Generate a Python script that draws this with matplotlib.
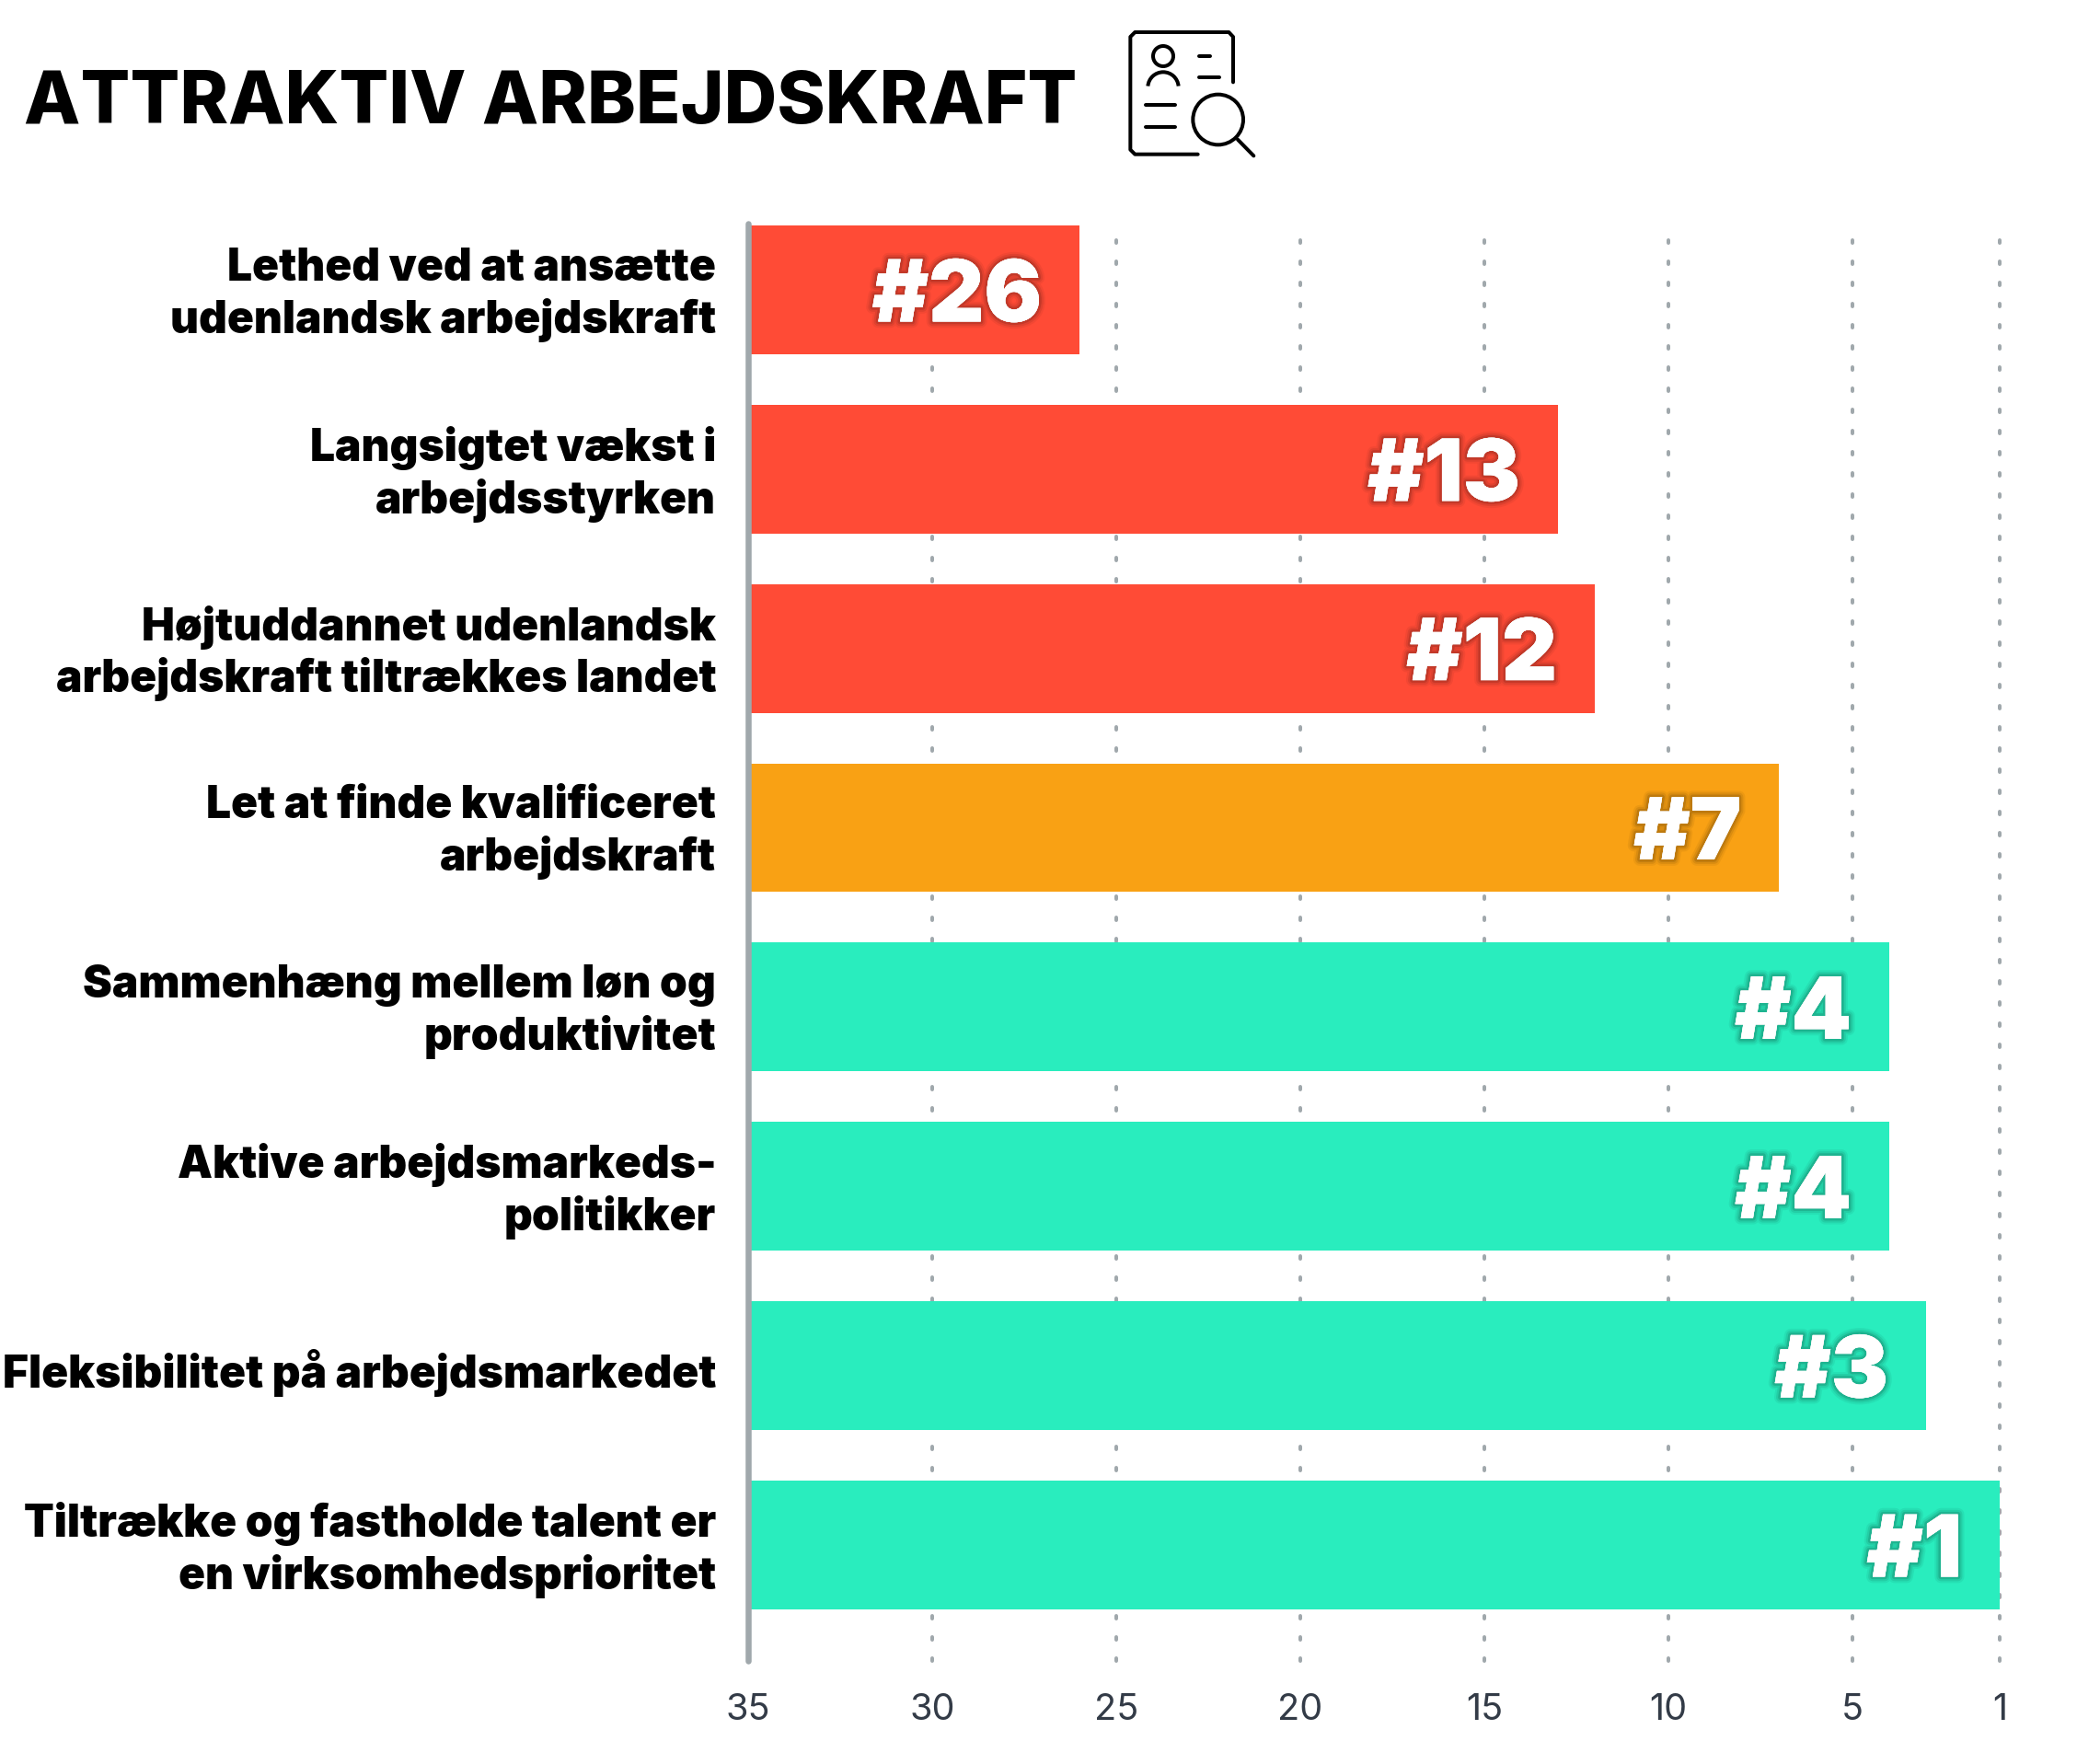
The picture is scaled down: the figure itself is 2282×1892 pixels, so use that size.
import matplotlib
matplotlib.use('Agg')
import matplotlib.pyplot as plt
import matplotlib.patheffects as pe
from matplotlib.patches import Circle, Arc
from matplotlib.transforms import ScaledTranslation

# Data
labels = ['Lethed ved at ansætte\nudenlandsk arbejdskraft',
          'Langsigtet vækst i\narbejdsstyrken',
          'Højtuddannet udenlandsk\narbejdskraft tiltrækkes landet',
          'Let at finde kvalificeret\narbejdskraft',
          'Sammenhæng mellem løn og\nproduktivitet',
          'Aktive arbejdsmarkeds-\npolitikker',
          'Fleksibilitet på arbejdsmarkedet',
          'Tiltrække og fastholde talent er\nen virksomhedsprioritet']
ranks = [26, 13, 12, 7, 4, 4, 3, 1]
colors = ['#FF4B36', '#FF4B36', '#FF4B36', '#F9A114',
          '#29EDBE', '#29EDBE', '#29EDBE', '#29EDBE']
xticks = [35, 30, 25, 20, 15, 10, 5, 1]
title = 'ATTRAKTIV ARBEJDSKRAFT'

W, H = 2282, 1892
PX = 72 / 100  # one pixel in points

fig = plt.figure(figsize=(W / 100, H / 100), dpi=100)
ax = fig.add_axes([813 / W, 1 - 1805 / H, (2173 - 813) / W, (1805 - 243) / H])

ypos = list(range(len(ranks)))
ax.set_xlim(35, 1)
ax.set_ylim(7.647, -0.369)

ax.barh(ypos, [r - 35 for r in ranks], left=35, height=0.718, color=colors, zorder=2)

for y, r in zip(ypos, ranks):
    ax.annotate(f'#{r}', (r, y), xytext=(-41 * PX, -10 * PX), textcoords='offset points',
                ha='right', va='center', color='white', fontsize=67,
                family='Inter', fontweight=900, zorder=4,
                path_effects=[pe.withStroke(linewidth=10, foreground='black', alpha=0.05),
                              pe.withStroke(linewidth=7, foreground='black', alpha=0.08),
                              pe.withStroke(linewidth=4, foreground='black', alpha=0.12),
                              pe.Normal()])

ax.set_xticks(xticks)
ax.set_xticklabels([str(t) for t in xticks], fontsize=28.5, color='#333B47', family='Inter')
ax.tick_params(axis='x', length=0, pad=25)
ax.set_yticks(ypos)
ax.set_yticklabels(labels, fontsize=34.45, fontweight=900, family='Inter', color='black',
                   linespacing=1.23, ha='right', multialignment='right')
ax.tick_params(axis='y', length=0, pad=25)

# two-line labels sit a little higher than the one-line label
for lab in ax.get_yticklabels():
    dy = 4 if '\n' in lab.get_text() else -3
    lab.set_transform(lab.get_transform() + ScaledTranslation(0, dy / 100, fig.dpi_scale_trans))

ax.grid(axis='x', color='#A0A8AC', linewidth=4 * PX, linestyle=(0, (0.75, 5)), zorder=1)
for gl in ax.get_xgridlines():
    gl.set_dash_capstyle('round')
    gl.set_clip_on(False)
ax.set_axisbelow(True)

for s in ['top', 'right', 'bottom']:
    ax.spines[s].set_visible(False)
ax.spines['left'].set_linewidth(6.5 * PX)
ax.spines['left'].set_color('#A0A8AC')
ax.spines['left'].set_capstyle('round')
ax.spines['left'].set_zorder(3)

fig.text(26 / W, 1 - 113 / H, title, fontsize=57.4, fontweight=800, family='Inter',
         color='black', ha='left', va='center')

# Icon, drawn in pixel space of the crop
ic = fig.add_axes([0, 0, 1, 1], facecolor='none')
ic.set_xlim(0, W)
ic.set_ylim(H, 0)
ic.axis('off')
lw = 4 * PX


def pt(x, y):
    return 1180 + x / 3, y / 3


def seg(*pts):
    xy = [pt(*p) for p in pts]
    ic.plot([p[0] for p in xy], [p[1] for p in xy], color='black', lw=lw,
            solid_capstyle='round', solid_joinstyle='round')


seg((480, 268), (480, 120), (466, 105), (160, 105), (145, 120), (145, 488), (160, 503), (365, 503))
seg((368, 184), (406, 184))
seg((368, 253), (435, 253))
seg((194, 343), (292, 343))
seg((194, 415), (292, 415))
seg((495, 455), (547, 508))
ic.add_patch(Circle(pt(252, 183), 33 / 3, fill=False, ec='black', lw=lw))
ic.add_patch(Circle(pt(431, 390), 82 / 3, fill=False, ec='black', lw=lw))
ic.add_patch(Arc(pt(252, 285), 100 / 3, 100 / 3, theta1=185, theta2=355, ec='black', lw=lw))

fig.savefig('out.png', dpi=100)
